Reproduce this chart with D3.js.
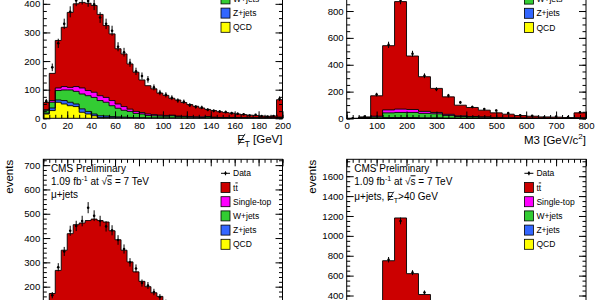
<!DOCTYPE html>
<html>
<head>
<meta charset="utf-8">
<script src="https://cdn.jsdelivr.net/npm/d3@7/dist/d3.min.js"></script>
<style>
  body { margin: 0; background: #fff; }
  svg { display: block; font-family: "Liberation Sans", Arial, Helvetica, sans-serif; }
</style>
</head>
<body>
<svg id="chart" width="600" height="300"></svg>
<script>
// stack order, bottom to top
const processes = ["qcd", "zjets", "wjets", "stop", "ttbar"];
const procColors = { qcd: "#ffff00", zjets: "#3366ff", wjets: "#33cc33", stop: "#ff00ff", ttbar: "#cc0000" };
const legendLabels = ["Data", "tt", "Single-top", "W+jets", "Z+jets", "QCD"];
const legendKeys = ["data", "ttbar", "stop", "wjets", "zjets", "qcd"];

// top left: missing ET, e+jets, 5 GeV bins 0-200
const metElQcd   = [15,27,56,50,44,41,21,15,9,3,3,2,2,1,1,0,0,0,0,0,0,0,0,0,0,0,0,0,0,0,0,0,0,0,0,0,0,0,0,0];
const metElZjets = [3,9,8,12,12,9,12,9,6,6,5,4,3,3,2,2,2,1,1,1,1,1,1,0,0,0,0,0,0,0,0,0,0,0,0,0,0,0,0,0];
const metElWjets = [10,20,33,37,43,44,52,55,58,53,48,38,30,24,21,15,13,9,8,7,6,8,5,5,4,4,3,5,3,2,2,2,2,1,1,1,1,1,1,3];
const metElStop  = [2,6,9,12,9,17,21,18,18,17,17,18,15,13,8,7,5,5,4,3,3,2,2,2,2,1,2,1,1,1,1,1,0,1,1,1,0,0,0,1];
const metElTtbar = [25,95,166,207,262,289,299,305,303,284,251,233,193,184,158,137,114,99,90,77,70,59,56,48,42,37,31,25,23,20,17,15,13,11,9,8,7,6,7,61];
const metElData  = [60,178,262,330,372,412,418,410,398,352,330,306,250,231,194,164,148,136,108,90,82,72,62,58,46,40,38,30,26,24,22,18,16,14,10,12,8,6,8,68];

// top right: M3, e+jets, 40 GeV bins 0-800
const m3ElQcd   = [0,1,1,3,3,3,2,2,1,1,1,0,0,0,0,0,0,0,0,0];
const m3ElZjets = [0,1,2,4,4,4,3,3,2,2,1,1,1,0,0,0,0,0,0,1];
const m3ElWjets = [0,3,8,35,38,38,33,30,20,12,9,8,5,4,3,2,2,1,1,3];
const m3ElStop  = [0,1,6,22,25,22,15,10,8,5,4,3,2,2,1,1,1,1,0,1];
const m3ElTtbar = [2,6,152,478,800,398,258,179,130,79,67,50,34,26,18,14,9,8,6,37];
const m3ElData  = [1,14,178,548,880,482,318,218,170,120,86,70,60,40,24,20,8,15,10,46];

// bottom left: missing ET, mu+jets, 5 GeV bins 0-200
const metMuQcd   = [0,10,14,12,10,8,6,4,3,2,1,1,1,0,0,0,0,0,0,0,0,0,0,0,0,0,0,0,0,0,0,0,0,0,0,0,0,0,0,0];
const metMuZjets = [0,4,6,6,5,5,4,4,3,3,2,2,2,1,1,1,1,1,0,0,0,0,0,0,0,0,0,0,0,0,0,0,0,0,0,0,0,0,0,0];
const metMuWjets = [0,20,35,45,55,60,62,62,60,58,52,46,40,34,29,25,21,18,15,13,11,10,8,7,6,5,5,4,4,3,3,2,2,2,2,1,1,1,1,4];
const metMuStop  = [0,6,10,14,16,18,18,18,17,16,15,14,12,11,10,8,7,6,5,5,4,4,3,3,2,2,2,2,1,1,1,1,1,1,1,1,1,0,0,1];
const metMuTtbar = [0,132,202,273,332,364,372,384,395,393,396,367,338,304,262,227,193,175,155,142,117,101,89,78,68,59,50,43,37,32,27,24,20,17,14,13,11,10,9,55];
const metMuData  = [0,165,280,345,430,450,470,525,492,470,448,432,392,355,300,275,215,205,178,157,135,118,98,90,80,62,58,50,40,38,30,28,22,20,18,14,12,10,9,62];

// bottom right: M3, mu+jets, MET > 40 GeV
const m3MuQcd   = [0,0,1,2,2,2,1,1,1,0,0,0,0,0,0,0,0,0,0,0];
const m3MuZjets = [0,0,2,4,5,4,3,2,2,1,1,1,0,0,0,0,0,0,0,0];
const m3MuWjets = [0,2,10,40,48,45,38,32,22,14,10,8,6,4,3,2,2,1,1,3];
const m3MuStop  = [0,1,8,28,32,28,20,14,10,6,5,4,3,2,2,1,1,1,0,1];
const m3MuTtbar = [0,5,209,676,1093,541,348,251,180,114,94,67,51,39,27,22,15,12,9,56];
const m3MuData  = [0,10,240,760,1150,630,430,290,220,140,105,85,55,48,30,28,15,16,8,62];

// tick labels (only the part of the page that is in view)
const metTicks = [0, 20, 40, 60, 80, 100, 120, 140, 160, 180, 200];
const m3Ticks = [0, 100, 200, 300, 400, 500, 600, 700, 800];
const yTicksMetEl = [0, 100, 200, 300, 400];
const yTicksM3El = [0, 200, 400, 600, 800];
const yTicksMetMu = [200, 300, 400, 500, 600, 700];
const yTicksM3Mu = [400, 600, 800, 1000, 1200, 1400, 1600];

const panels = [
  { left: 43.3, right: 282.5, top: -57.7, bottom: 118.3, xMax: 200, yMax: 615,
    xTicks: metTicks, xLabels: true, xMinor: 5, yTicks: yTicksMetEl, yMajor: 100, yMinor: 25, xTitle: "met",
    series: { qcd: metElQcd, zjets: metElZjets, wjets: metElWjets, stop: metElStop, ttbar: metElTtbar }, data: metElData },
  { left: 346.7, right: 586, top: -57.5, bottom: 118.5, xMax: 800, yMax: 1310,
    xTicks: m3Ticks, xLabels: true, xMinor: 20, yTicks: yTicksM3El, yMajor: 200, yMinor: 50, xTitle: "m3",
    series: { qcd: m3ElQcd, zjets: m3ElZjets, wjets: m3ElWjets, stop: m3ElStop, ttbar: m3ElTtbar }, data: m3ElData },
  { left: 43.3, right: 282.5, top: 159.3, bottom: 335.3, xMax: 200, yMax: 724,
    xTicks: metTicks, xLabels: false, xMinor: 5, yTicks: yTicksMetMu, yMajor: 100, yMinor: 20, yTitle: true,
    header: "mu",
    series: { qcd: metMuQcd, zjets: metMuZjets, wjets: metMuWjets, stop: metMuStop, ttbar: metMuTtbar }, data: metMuData },
  { left: 346.7, right: 586, top: 159.3, bottom: 335.3, xMax: 800, yMax: 1770,
    xTicks: m3Ticks, xLabels: false, xMinor: 20, yTicks: yTicksM3Mu, yMajor: 200, yMinor: 50, yTitle: true,
    header: "mumet",
    series: { qcd: m3MuQcd, zjets: m3MuZjets, wjets: m3MuWjets, stop: m3MuStop, ttbar: m3MuTtbar }, data: m3MuData }
];

const svg = d3.select("#chart");

// slash through the "E" of the missing-ET symbol, drawn as a line
function slashE(g, el, size) {
  const a = el.getStartPositionOfChar(0);
  const b = el.getEndPositionOfChar(0);
  g.append("line")
    .attr("x1", a.x + (b.x - a.x) * 0.15).attr("y1", a.y + size * 0.12)
    .attr("x2", b.x + size * 0.02).attr("y2", a.y - size * 0.82)
    .attr("stroke", "#000").attr("stroke-width", size * 0.075);
}

panels.forEach((p, pi) => {
  const n = p.data.length;
  const bw = p.xMax / n;
  const x = d3.scaleLinear().domain([0, p.xMax]).range([p.left, p.right]);
  const y = d3.scaleLinear().domain([0, p.yMax]).range([p.bottom, p.top]);

  const g = svg.append("g");
  const clipId = "clip" + pi;
  g.append("clipPath").attr("id", clipId).append("rect")
    .attr("x", p.left).attr("y", p.top).attr("width", p.right - p.left).attr("height", p.bottom - p.top);

  const rows = d3.range(n).map(i => {
    const r = {};
    processes.forEach(k => { r[k] = p.series[k][i]; });
    return r;
  });
  const stacked = d3.stack().keys(processes)(rows);

  const plot = g.append("g").attr("clip-path", `url(#${clipId})`);

  const area = d3.area()
    .x(d => x(d.e * bw)).y0(d => y(d.v[0])).y1(d => y(d.v[1]))
    .curve(d3.curveStepAfter);
  const outline = d3.line()
    .x(d => x(d.e * bw)).y(d => y(d.t))
    .curve(d3.curveStepAfter);

  stacked.forEach(layer => {
    const pts = d3.range(n + 1).map(e => ({ e: e, v: layer[Math.min(e, n - 1)] }));
    plot.append("path")
      .attr("d", area(pts))
      .attr("fill", procColors[layer.key]);
  });
  stacked.forEach(layer => {
    const pts = [{ e: 0, t: 0 }]
      .concat(d3.range(n + 1).map(e => ({ e: e, t: layer[Math.min(e, n - 1)][1] })))
      .concat([{ e: n, t: 0 }]);
    plot.append("path")
      .attr("d", outline(pts))
      .attr("fill", "none")
      .attr("stroke", "#000")
      .attr("stroke-width", 0.9);
  });

  // data points with statistical error bars
  const pts = p.data.map((v, i) => ({ c: (i + 0.5) * bw, v: v })).filter(d => d.v > 0);
  plot.selectAll(".err").data(pts).enter().append("line")
    .attr("x1", d => x(d.c)).attr("x2", d => x(d.c))
    .attr("y1", d => y(d.v + Math.sqrt(d.v))).attr("y2", d => y(Math.max(0, d.v - Math.sqrt(d.v))))
    .attr("stroke", "#000").attr("stroke-width", 1);
  plot.selectAll(".dot").data(pts).enter().append("circle")
    .attr("cx", d => x(d.c)).attr("cy", d => y(d.v)).attr("r", 1.3).attr("fill", "#000");

  // frame and ticks on all four sides
  const xMinorVals = d3.range(0, p.xMax + 0.001, p.xMinor);
  const yMajorVals = d3.range(0, p.yMax, p.yMajor);
  const yMinorVals = d3.range(0, p.yMax, p.yMinor);
  const tickStyle = sel => {
    sel.select(".domain").remove();
    sel.selectAll("line").attr("stroke", "#000");
    sel.selectAll("text").attr("font-size", 9.6).attr("fill", "#000").attr("font-family", null);
  };
  const xAxis = d3.axisBottom(x).tickValues(p.xTicks).tickSize(-7).tickPadding(4);
  g.append("g").attr("transform", `translate(0,${p.bottom})`)
    .call(p.xLabels ? xAxis.tickFormat(d3.format("d")) : xAxis.tickFormat(""))
    .call(tickStyle);
  g.append("g").attr("transform", `translate(0,${p.bottom})`)
    .call(d3.axisBottom(x).tickValues(xMinorVals).tickSize(-3.5).tickFormat(""))
    .call(tickStyle);
  g.append("g").attr("transform", `translate(0,${p.top})`)
    .call(d3.axisTop(x).tickValues(p.xTicks).tickSize(-7).tickFormat(""))
    .call(tickStyle);
  g.append("g").attr("transform", `translate(0,${p.top})`)
    .call(d3.axisTop(x).tickValues(xMinorVals).tickSize(-3.5).tickFormat(""))
    .call(tickStyle);
  g.append("g").attr("transform", `translate(${p.left},0)`)
    .call(d3.axisLeft(y).tickValues(yMajorVals).tickSize(-7).tickFormat(""))
    .call(tickStyle);
  g.append("g").attr("transform", `translate(${p.left},0)`)
    .call(d3.axisLeft(y).tickValues(p.yTicks).tickSize(0).tickPadding(3).tickFormat(d3.format("d")))
    .call(tickStyle);
  g.append("g").attr("transform", `translate(${p.left},0)`)
    .call(d3.axisLeft(y).tickValues(yMinorVals).tickSize(-3.5).tickFormat(""))
    .call(tickStyle);
  g.append("g").attr("transform", `translate(${p.right},0)`)
    .call(d3.axisRight(y).tickValues(yMajorVals).tickSize(-7).tickFormat(""))
    .call(tickStyle);
  g.append("g").attr("transform", `translate(${p.right},0)`)
    .call(d3.axisRight(y).tickValues(yMinorVals).tickSize(-3.5).tickFormat(""))
    .call(tickStyle);
  g.append("rect")
    .attr("x", p.left).attr("y", p.top).attr("width", p.right - p.left).attr("height", p.bottom - p.top)
    .attr("fill", "none").attr("stroke", "#000").attr("stroke-width", 1);

  // axis titles
  if (p.xTitle === "met") {
    const t = g.append("text").attr("x", p.right).attr("y", p.bottom + 25).attr("text-anchor", "end").attr("font-size", 11.5);
    const e = t.append("tspan").text("E");
    t.append("tspan").attr("dy", 3.5).attr("font-size", 8.3).text("T");
    t.append("tspan").attr("dy", -3.5).text(" [GeV]");
    slashE(g, e.node(), 11.5);
  } else if (p.xTitle === "m3") {
    const t = g.append("text").attr("x", p.right).attr("y", p.bottom + 25).attr("text-anchor", "end").attr("font-size", 11.5);
    t.append("tspan").text("M3 [GeV/c");
    t.append("tspan").attr("dy", -4.5).attr("font-size", 8).text("2");
    t.append("tspan").attr("dy", 4.5).text("]");
  }
  if (p.yTitle) {
    g.append("text")
      .attr("transform", `translate(${p.left - 30.8},${p.top + 0.5}) rotate(-90)`)
      .attr("text-anchor", "end").attr("font-size", 11.5).text("events");
  }

  // header lines
  if (p.header) {
    const hx = p.left + 7.6;
    g.append("text").attr("x", hx).attr("y", p.top + 13).attr("font-size", 10).text("CMS Preliminary");
    const l2 = g.append("text").attr("x", hx).attr("y", p.top + 26).attr("font-size", 10);
    l2.append("tspan").text("1.09 fb");
    l2.append("tspan").attr("dy", -4).attr("font-size", 7).text("-1");
    l2.append("tspan").attr("dy", 4).text(" at \u221A");
    l2.append("tspan").attr("text-decoration", "overline").text("s");
    l2.append("tspan").text(" = 7 TeV");
    const l3 = g.append("text").attr("x", hx).attr("y", p.top + (p.header === "mu" ? 38.5 : 40.5)).attr("font-size", 10);
    l3.append("tspan").text("\u03BC+jets");
    if (p.header === "mumet") {
      l3.append("tspan").text(", ");
      const e = l3.append("tspan").text("E");
      l3.append("tspan").attr("dy", 3).attr("font-size", 7.2).text("T");
      l3.append("tspan").attr("dy", -3).text(">40 GeV");
      slashE(g, e.node(), 10);
    }
  }

  // legend (rows that fall above the page are not drawn)
  const bx = p.left + (p.right - p.left > 239.5 ? 179.3 : 177.7);
  legendKeys.forEach((k, i) => {
    const cy = p.top + 14 + i * 14.2;
    if (cy + 4 < 0) return;
    if (k === "data") {
      g.append("line").attr("x1", bx).attr("x2", bx + 9).attr("y1", cy).attr("y2", cy).attr("stroke", "#000");
      g.append("line").attr("x1", bx + 4.5).attr("x2", bx + 4.5).attr("y1", cy - 2).attr("y2", cy + 2).attr("stroke", "#000");
      g.append("circle").attr("cx", bx + 4.5).attr("cy", cy).attr("r", 1.2).attr("fill", "#000");
    } else {
      g.append("rect").attr("x", bx).attr("y", cy - 5).attr("width", 9).attr("height", 10)
        .attr("fill", procColors[k]).attr("stroke", "#000").attr("stroke-width", 0.8);
    }
    const t = g.append("text").attr("x", bx + 12).attr("y", cy + 3).attr("font-size", 8.5);
    if (k === "ttbar") {
      t.append("tspan").text("t");
      t.append("tspan").attr("text-decoration", "overline").text("t");
    } else {
      t.text(legendLabels[i]);
    }
  });
});
</script>
</body>
</html>
